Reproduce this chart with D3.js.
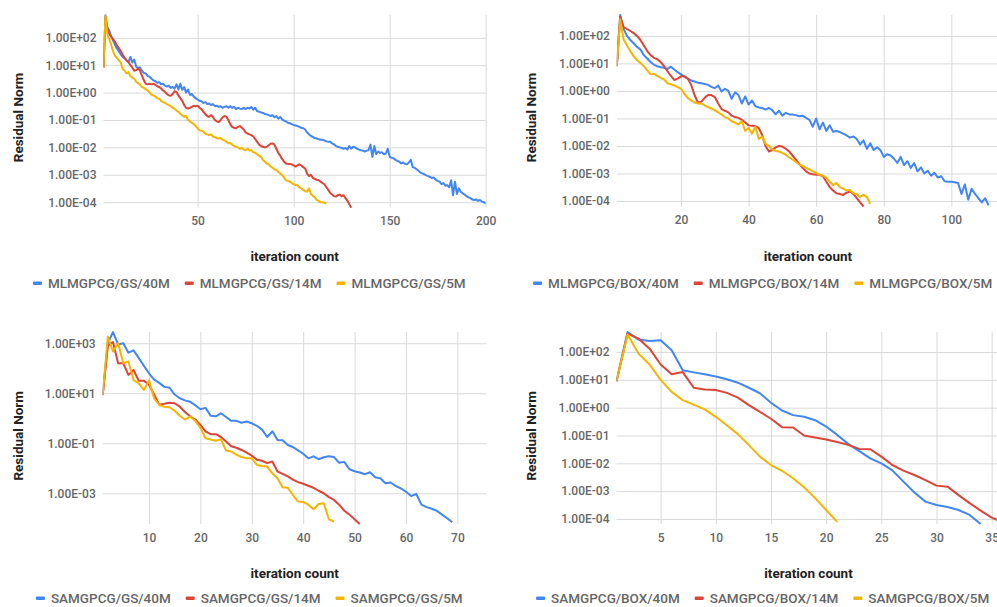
<!DOCTYPE html>
<html>
<head>
<meta charset="utf-8">
<script src="https://cdn.jsdelivr.net/npm/d3@7"></script>
<style>
  html, body { margin: 0; padding: 0; background: #fff; }
  svg { display: block; font-family: Roboto, "Noto Sans", sans-serif; }
</style>
</head>
<body>
<svg id="chart" width="997" height="607"></svg>
<script>
// Residual norm per iteration (iteration 1 = first value)
const mlGs40 = [8.3, 660, 250, 180, 110, 79, 56, 40, 32, 25,
  20, 18, 15, 13, 20, 12.6, 16, 8.9, 7.9, 8.3,
  6.3, 5.2, 5.0, 4.0, 3.8, 3.2, 2.8, 2.6, 2.3, 2.4,
  2.0, 2.1, 1.8, 1.66, 1.78, 1.5, 1.6, 1.4, 2.0, 1.3,
  2.1, 1.26, 1.6, 1.0, 1.3, 0.83, 0.89, 0.71, 0.63, 0.56,
  0.5, 0.48, 0.42, 0.45, 0.38, 0.4, 0.35, 0.38, 0.32, 0.33,
  0.3, 0.32, 0.28, 0.3, 0.32, 0.28, 0.32, 0.28, 0.3, 0.25,
  0.28, 0.26, 0.25, 0.28, 0.25, 0.28, 0.26, 0.3, 0.24, 0.28,
  0.21, 0.2, 0.19, 0.18, 0.166, 0.16, 0.15, 0.14, 0.15, 0.126,
  0.14, 0.112, 0.13, 0.105, 0.095, 0.089, 0.079, 0.076, 0.071, 0.066,
  0.063, 0.06, 0.056, 0.052, 0.05, 0.045, 0.035, 0.03, 0.026, 0.024,
  0.022, 0.021, 0.02, 0.019, 0.019, 0.018, 0.0166, 0.016, 0.016, 0.014,
  0.013, 0.0112, 0.0105, 0.01, 0.0095, 0.0089, 0.0095, 0.0083, 0.0112, 0.0089,
  0.0105, 0.01, 0.0089, 0.0083, 0.0079, 0.0076, 0.0071, 0.0076, 0.0079, 0.0126,
  0.0045, 0.0112, 0.0056, 0.0071, 0.0063, 0.0066, 0.0056, 0.006, 0.0089, 0.0045,
  0.0042, 0.004, 0.0035, 0.0032, 0.003, 0.0026, 0.0028, 0.0025, 0.0024, 0.0028,
  0.0035, 0.0019, 0.0018, 0.0016, 0.0014, 0.0012, 0.00112, 0.00105, 0.00095, 0.00089,
  0.00083, 0.00076, 0.00079, 0.00066, 0.0006, 0.00056, 0.00045, 0.0005, 0.0004, 0.00042,
  0.00035, 0.00063, 0.00018, 0.00056, 0.0002, 0.00032, 0.00024, 0.00021, 0.00019, 0.000166,
  0.00015, 0.00014, 0.000126, 0.00012, 0.000126, 0.000112, 0.00012, 0.000105, 0.0001, 0.000089];

const mlGs14 = [8.3, 560, 200, 141, 112, 89, 71, 52, 42, 32,
  24, 18, 15, 13, 10, 8.3, 6.3, 6.6, 7.6, 6.3,
  4.2, 2.8, 2.1, 2.0, 2.1, 2.0, 2.1, 1.9, 1.7, 1.6,
  1.4, 1.2, 1.07, 0.89, 0.79, 0.76, 0.89, 1.12, 1.05, 0.79,
  0.63, 0.5, 0.35, 0.28, 0.26, 0.28, 0.3, 0.33, 0.32, 0.33,
  0.28, 0.25, 0.2, 0.166, 0.14, 0.13, 0.15, 0.126, 0.1, 0.089,
  0.083, 0.1, 0.126, 0.14, 0.13, 0.1, 0.071, 0.056, 0.052, 0.05,
  0.056, 0.06, 0.052, 0.045, 0.035, 0.032, 0.03, 0.028, 0.025, 0.02,
  0.016, 0.0126, 0.0112, 0.0105, 0.01, 0.0105, 0.012, 0.0135, 0.014, 0.0126,
  0.0089, 0.0063, 0.005, 0.0038, 0.003, 0.0026, 0.0025, 0.0025, 0.0024, 0.0022,
  0.002, 0.0022, 0.0024, 0.0022, 0.0019, 0.0017, 0.0011, 0.00089, 0.001, 0.00076,
  0.00071, 0.00066, 0.00063, 0.00056, 0.0005, 0.00045, 0.00035, 0.00028, 0.00022, 0.00019,
  0.000166, 0.00016, 0.00018, 0.00019, 0.000166, 0.00018, 0.00014, 0.000112, 0.000083, 0.000063];

const mlGs5 = [8.3, 630, 141, 89, 56, 32, 22, 18, 15, 12.6,
  7.1, 6.3, 5.0, 5.6, 4.0, 3.5, 3.2, 2.5, 2.2, 2.0,
  1.6, 1.5, 1.3, 1.2, 1.0, 0.83, 0.79, 0.71, 0.63, 0.6,
  0.5, 0.45, 0.42, 0.38, 0.35, 0.32, 0.28, 0.26, 0.22, 0.2,
  0.166, 0.15, 0.13, 0.14, 0.1, 0.089, 0.079, 0.071, 0.06, 0.05,
  0.042, 0.04, 0.038, 0.032, 0.03, 0.028, 0.03, 0.025, 0.024, 0.022,
  0.021, 0.022, 0.019, 0.018, 0.016, 0.0141, 0.0145, 0.0126, 0.0112, 0.0105,
  0.01, 0.0089, 0.0095, 0.0083, 0.0079, 0.0089, 0.0076, 0.0079, 0.0066, 0.0063,
  0.0056, 0.005, 0.0045, 0.0035, 0.003, 0.0026, 0.0024, 0.002, 0.0018, 0.0016,
  0.0015, 0.0013, 0.0011, 0.001, 0.00079, 0.00063, 0.0006, 0.00056, 0.0005, 0.00045,
  0.00042, 0.00042, 0.00035, 0.00032, 0.00028, 0.00025, 0.00024, 0.00032, 0.0002, 0.00017,
  0.00015, 0.00012, 0.000112, 0.0001, 0.0001, 0.000095, 0.000089];

const mlBox40 = [8, 575, 180, 100, 71, 54, 40, 32, 20, 15,
  11.2, 8.9, 7.9, 7.2, 6.9, 6.3, 7.6, 6.0, 4.8, 4.0,
  3.3, 2.8, 2.4, 2.2, 2.0, 1.9, 1.8, 1.66, 1.41, 1.26,
  1.58, 0.95, 1.2, 1.0, 0.52, 0.89, 0.71, 0.35, 0.63, 0.32,
  0.45, 0.28, 0.25, 0.24, 0.21, 0.24, 0.2, 0.14, 0.19, 0.126,
  0.16, 0.14, 0.138, 0.132, 0.12, 0.126, 0.105, 0.089, 0.05, 0.1,
  0.04, 0.071, 0.035, 0.056, 0.033, 0.035, 0.032, 0.028, 0.024, 0.02,
  0.022, 0.018, 0.0112, 0.016, 0.0079, 0.0126, 0.0071, 0.0089, 0.0071, 0.004,
  0.005, 0.0045, 0.0035, 0.0024, 0.004, 0.002, 0.0028, 0.0016, 0.0024, 0.0012,
  0.00166, 0.001, 0.00126, 0.00083, 0.00105, 0.00071, 0.00079, 0.00052, 0.0005, 0.0005,
  0.00048, 0.00045, 0.00018, 0.0004, 0.000112, 0.00028, 0.00018, 0.000126, 0.000089, 0.000126,
  0.00007];

const mlBox14 = [8, 500, 210, 178, 151, 126, 100, 71, 45, 28,
  20, 16, 14, 11.2, 7.9, 5.2, 3.5, 2.5, 2.8, 3.4,
  3.4, 2.8, 1.66, 0.71, 0.38, 0.4, 0.56, 0.71, 0.71, 0.6,
  0.35, 0.22, 0.19, 0.166, 0.126, 0.112, 0.105, 0.089, 0.071, 0.056,
  0.054, 0.052, 0.045, 0.025, 0.01, 0.0063, 0.0071, 0.0089, 0.01, 0.0095,
  0.0079, 0.0063, 0.0045, 0.0032, 0.0022, 0.0016, 0.0012, 0.001, 0.00093, 0.00089,
  0.00089, 0.00079, 0.0005, 0.00032, 0.00024, 0.00019, 0.00018, 0.000166, 0.0002, 0.00022,
  0.00018, 0.000126, 0.000089, 0.000063];

const mlBox5 = [8, 400, 76, 45, 28, 18, 13, 10.5, 7.9, 5.6,
  4.0, 4.2, 3.5, 3.0, 2.6, 1.9, 1.74, 1.58, 1.38, 1.2,
  0.79, 0.56, 0.45, 0.38, 0.35, 0.35, 0.3, 0.26, 0.23, 0.2,
  0.166, 0.14, 0.112, 0.1, 0.079, 0.071, 0.06, 0.079, 0.035, 0.045,
  0.028, 0.05, 0.018, 0.022, 0.012, 0.01, 0.0076, 0.0066, 0.0063, 0.0056,
  0.0048, 0.0038, 0.0032, 0.0026, 0.0021, 0.0019, 0.0016, 0.0014, 0.0012, 0.00105,
  0.00089, 0.00083, 0.00071, 0.0005, 0.00038, 0.00045, 0.00032, 0.00028, 0.00024, 0.00025,
  0.00019, 0.00018, 0.00014, 0.000166, 0.00014, 0.000079];

const saGs40 = [8.5, 1000, 2800, 890, 1000, 420, 520, 260, 126, 63,
  35, 26, 18, 16.6, 8.9, 6.3, 5.2, 4.6, 3.3, 2.3,
  2.6, 1.26, 1.2, 1.58, 1.12, 0.79, 0.79, 0.66, 0.74, 0.63,
  0.5, 0.35, 0.178, 0.3, 0.135, 0.132, 0.085, 0.071, 0.052, 0.038,
  0.025, 0.03, 0.023, 0.0275, 0.03, 0.028, 0.0166, 0.018, 0.0091, 0.0076,
  0.0068, 0.0058, 0.0069, 0.0044, 0.004, 0.0025, 0.0027, 0.00195, 0.00158, 0.00115,
  0.00078, 0.00093, 0.00035, 0.00028, 0.00024, 0.0002, 0.00014, 0.0001, 0.000069];

const saGs14 = [8.5, 790, 1120, 158, 158, 54, 85, 32, 32, 22,
  8.9, 3.5, 3.8, 4.2, 4.0, 2.9, 1.78, 1.2, 0.89, 0.54,
  0.3, 0.23, 0.23, 0.178, 0.117, 0.076, 0.066, 0.054, 0.042, 0.032,
  0.022, 0.02, 0.016, 0.0186, 0.0074, 0.006, 0.0047, 0.0035, 0.0028, 0.0024,
  0.002, 0.00166, 0.00126, 0.001, 0.0007, 0.00054, 0.00035, 0.0002, 0.00014, 0.000091,
  0.000059];

const saGs5 = [8.5, 1860, 470, 1000, 158, 186, 34, 25, 13.5, 32,
  6.3, 3.4, 2.9, 2.75, 2.0, 1.26, 0.89, 1.17, 0.79, 0.42,
  0.158, 0.141, 0.126, 0.145, 0.051, 0.047, 0.035, 0.028, 0.025, 0.025,
  0.0135, 0.0123, 0.0117, 0.0063, 0.004, 0.00174, 0.00166, 0.00085, 0.00047, 0.00045,
  0.00035, 0.00023, 0.00037, 0.0004, 0.000091, 0.000074];

const saBox40 = [8.9, 525, 280, 250, 263, 115, 22, 18.6, 15.8, 13.2,
  10.5, 7.9, 5.2, 3.3, 1.5, 0.79, 0.54, 0.47, 0.355, 0.21,
  0.105, 0.05, 0.0275, 0.015, 0.01, 0.0056, 0.0022, 0.00089, 0.00042, 0.00032,
  0.00027, 0.00021, 0.00014, 0.000066];

const saBox14 = [8.9, 457, 302, 132, 35.5, 15.8, 19, 5.2, 4.5, 4.3,
  3.4, 2.3, 1.23, 0.71, 0.4, 0.2, 0.195, 0.1, 0.085, 0.072,
  0.058, 0.046, 0.033, 0.032, 0.0174, 0.0087, 0.0055, 0.0038, 0.0025, 0.00158,
  0.00145, 0.00072, 0.00037, 0.0002, 0.000112, 0.000076];

const saBox5 = [8.9, 427, 87, 35.5, 10, 3.7, 1.86, 1.29, 0.87, 0.47,
  0.234, 0.112, 0.045, 0.0174, 0.0087, 0.0054, 0.0029, 0.00138, 0.00056, 0.00021,
  0.000079];

// series names
const mlGsNames = ['MLMGPCG/GS/40M', 'MLMGPCG/GS/14M', 'MLMGPCG/GS/5M'];
const mlBoxNames = ['MLMGPCG/BOX/40M', 'MLMGPCG/BOX/14M', 'MLMGPCG/BOX/5M'];
const saGsNames = ['SAMGPCG/GS/40M', 'SAMGPCG/GS/14M', 'SAMGPCG/GS/5M'];
const saBoxNames = ['SAMGPCG/BOX/40M', 'SAMGPCG/BOX/14M', 'SAMGPCG/BOX/5M'];

// axis ticks and ranges
const mlGsXTicks = [50, 100, 150, 200];
const mlBoxXTicks = [20, 40, 60, 80, 100];
const saGsXTicks = [10, 20, 30, 40, 50, 60, 70];
const saBoxXTicks = [5, 10, 15, 20, 25, 30, 35];
const decadeTicks = [1e2, 1e1, 1e0, 1e-1, 1e-2, 1e-3, 1e-4];
const oddDecadeTicks = [1e3, 1e1, 1e-1, 1e-3];
const mlGsXMax = 200, mlBoxXMax = 114.1, saGsXMax = 75.7, saBoxXMax = 35.8;
const mlGsYDomain = [6.5e-5, 680];
const mlBoxYDomain = [6.3e-5, 575];
const saGsYDomain = [5.9e-5, 2820];
const saBoxYDomain = [6.6e-5, 525];

const colors = ['#4285f4', '#db4437', '#f4b400'];

const panels = [
  { series: [mlGs40, mlGs14, mlGs5], names: mlGsNames, xTicks: mlGsXTicks, xMax: mlGsXMax,
    yTicks: decadeTicks, yDomain: mlGsYDomain, ox: 0, left: 103.5, right: 485.7, top: 15, bottom: 207.3,
    yLabelY: 117.5, legendY: 283.3 },
  { series: [mlBox40, mlBox14, mlBox5], names: mlBoxNames, xTicks: mlBoxXTicks, xMax: mlBoxXMax,
    yTicks: decadeTicks, yDomain: mlBoxYDomain, ox: 513.4, left: 616.8, right: 999, top: 15, bottom: 206.5,
    yLabelY: 117.5, legendY: 283.3 },
  { series: [saGs40, saGs14, saGs5], names: saGsNames, xTicks: saGsXTicks, xMax: saGsXMax,
    yTicks: oddDecadeTicks, yDomain: saGsYDomain, ox: 0, left: 102.7, right: 486.7, top: 332, bottom: 524,
    yLabelY: 435.8, legendY: 598.3 },
  { series: [saBox40, saBox14, saBox5], names: saBoxNames, xTicks: saBoxXTicks, xMax: saBoxXMax,
    yTicks: decadeTicks, yDomain: saBoxYDomain, ox: 513.4, left: 616.5, right: 1000.5, top: 332, bottom: 524,
    yLabelY: 435.8, legendY: 598.3 }
];

// 1.00E+02 style labels
function sciFmt(v) {
  const parts = v.toExponential(2).split('e');
  const sign = parts[1][0] === '-' ? '-' : '+';
  const digits = parts[1].replace(/[+-]/, '').padStart(2, '0');
  return parts[0] + 'E' + sign + digits;
}

const svg = d3.select('#chart');
const FONT = 'Roboto, "Noto Sans", sans-serif';

panels.forEach((p, pi) => {
  const x = d3.scaleLinear().domain([1, p.xMax]).range([p.left, p.right]);
  const y = d3.scaleLog().domain(p.yDomain).range([p.bottom, p.top]);
  const g = svg.append('g');

  g.append('clipPath').attr('id', 'clip' + pi)
    .append('rect')
    .attr('x', p.left).attr('y', p.top - 3)
    .attr('width', p.right - p.left).attr('height', p.bottom - p.top + 6);

  // horizontal gridlines + y labels
  g.append('g')
    .attr('transform', `translate(${p.left},0)`)
    .call(d3.axisLeft(y).tickValues(p.yTicks).tickFormat(sciFmt)
      .tickSize(-(p.right - p.left)).tickPadding(7))
    .attr('font-family', FONT).attr('font-size', 12)
    .call(a => a.select('.domain').remove())
    .call(a => a.selectAll('line').attr('stroke', '#d9d9d9'))
    .call(a => a.selectAll('text').attr('fill', '#666').attr('font-weight', 500));

  // vertical gridlines + x labels
  g.append('g')
    .attr('transform', `translate(0,${p.bottom})`)
    .call(d3.axisBottom(x).tickValues(p.xTicks).tickFormat(d3.format('d'))
      .tickSize(-(p.bottom - p.top)).tickPadding(9))
    .attr('font-family', FONT).attr('font-size', 12)
    .call(a => a.select('.domain').remove())
    .call(a => a.selectAll('line').attr('stroke', '#d9d9d9'))
    .call(a => a.selectAll('text').attr('fill', '#666').attr('font-weight', 500));

  // series lines
  const line = d3.line()
    .x((d, i) => x(i + 1))
    .y(d => y(d));

  const lines = g.append('g').attr('clip-path', `url(#clip${pi})`);
  p.series.forEach((s, si) => {
    lines.append('path')
      .datum(s)
      .attr('fill', 'none')
      .attr('stroke', colors[si])
      .attr('stroke-width', 2)
      .attr('stroke-linejoin', 'round')
      .attr('d', line);
  });

  // axis titles
  g.append('text')
    .attr('transform', `translate(${p.ox + 23},${p.yLabelY}) rotate(-90)`)
    .attr('text-anchor', 'middle')
    .attr('font-family', FONT).attr('font-size', 13.5).attr('font-weight', 'bold')
    .attr('fill', '#222')
    .text('Residual Norm');

  g.append('text')
    .attr('x', (p.left + p.right) / 2)
    .attr('y', p.bottom + 54)
    .attr('text-anchor', 'middle')
    .attr('font-family', FONT).attr('font-size', 13.5).attr('font-weight', 'bold')
    .attr('fill', '#222')
    .text('iteration count');

  // legend, centred in the chart
  const legend = g.append('g');
  let cursor = 0;
  p.names.forEach((name, si) => {
    const item = legend.append('g').attr('transform', `translate(${cursor},0)`);
    item.append('rect')
      .attr('x', 0).attr('y', -1.75)
      .attr('width', 9).attr('height', 3.5).attr('rx', 1)
      .attr('fill', colors[si]);
    const t = item.append('text')
      .attr('x', 15).attr('dy', '0.35em')
      .attr('font-family', FONT).attr('font-size', 13.5).attr('font-weight', 500)
      .attr('fill', '#666')
      .text(name);
    cursor += 15 + t.node().getComputedTextLength() + 15;
  });
  const legendWidth = cursor - 15;
  legend.attr('transform', `translate(${p.ox + 249.3 - legendWidth / 2},${p.legendY})`);
});
</script>
</body>
</html>
